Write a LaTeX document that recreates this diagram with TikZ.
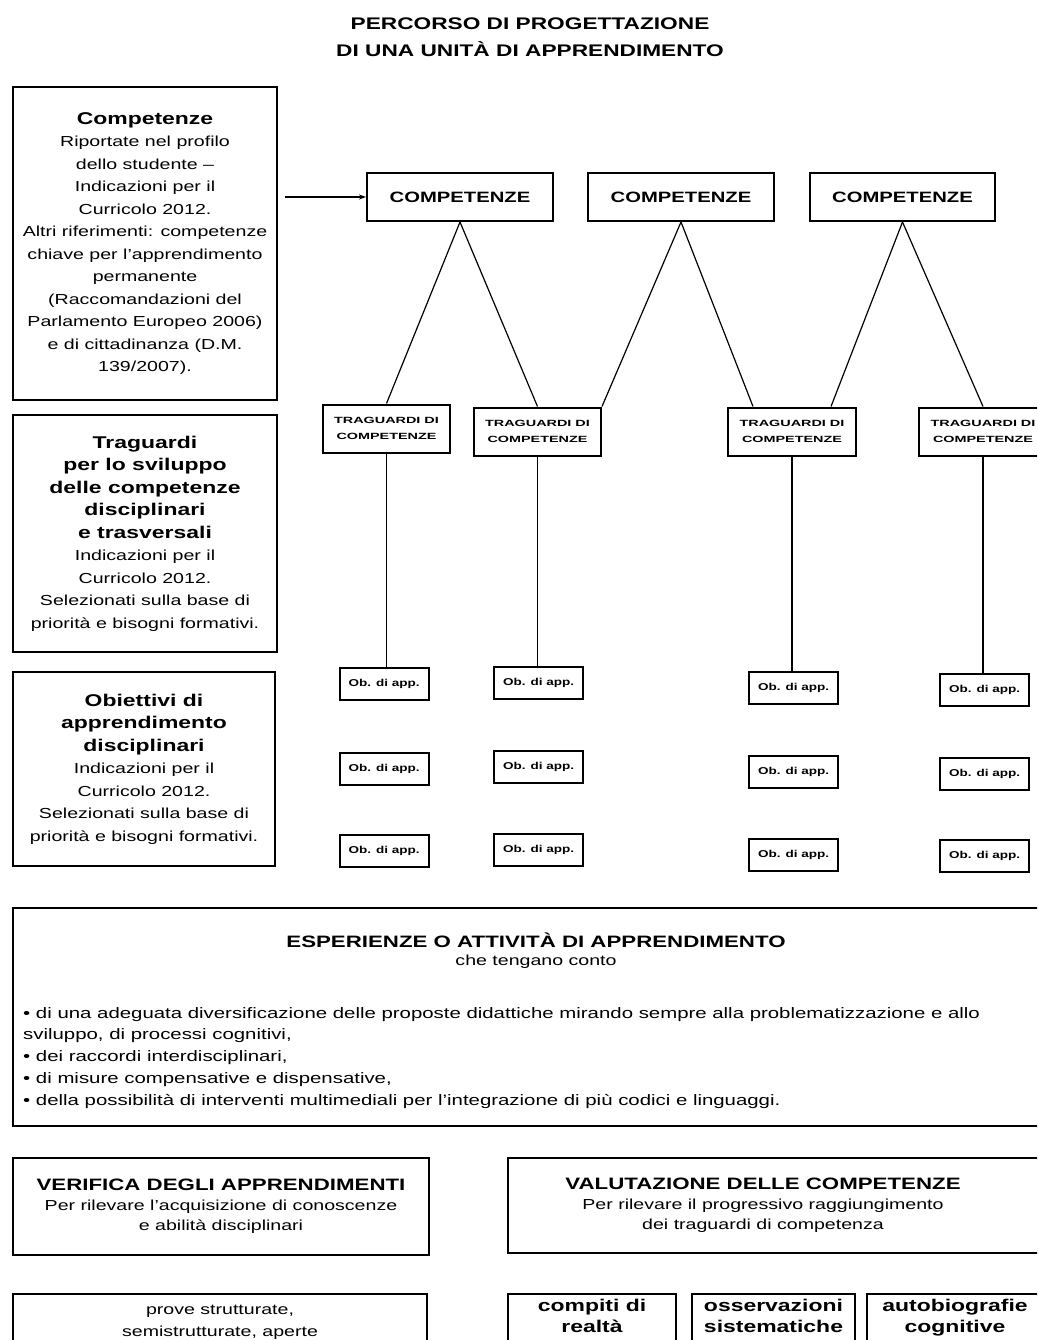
\documentclass[tikz,border=0pt]{standalone}
\usepackage{fontspec}
\setmainfont{Liberation Sans}[FakeStretch=1.35]
\newfontfamily\tinyfont{Liberation Sans}[FakeStretch=1.6]
\usetikzlibrary{positioning,calc,arrows.meta}

\newcommand{\regtext}{\fontsize{14.5}{22.5}\selectfont}
\newcommand{\headtext}{\fontsize{17}{22.5}\selectfont\bfseries}
\newcommand{\headsmall}{\fontsize{16.5}{20}\selectfont\bfseries}

\tikzset{
  boxframe/.style={draw, line width=2pt, inner sep=0pt, align=center},
  leftbox/.style={boxframe, minimum width=264pt, font=\regtext},
  compbox/.style={boxframe, minimum width=186pt, minimum height=48pt,
    font=\fontsize{15}{18}\selectfont\bfseries},
  tragbox/.style={boxframe, minimum width=127pt, minimum height=48pt,
    font=\tinyfont\fontsize{9}{16}\selectfont\bfseries},
  obbox/.style={boxframe, minimum width=89pt, minimum height=32pt,
    font=\fontsize{10}{12}\selectfont\bfseries},
  taskbox/.style={boxframe, minimum height=100pt, anchor=north},
  link/.style={line width=1.2pt},
}

\begin{document}
\begin{tikzpicture}[x=1pt, y=-1pt]
    \useasboundingbox (0,0) rectangle (1037,1340);
    \clip (0,0) rectangle (1037,1340);
    % title
    \node[align=center, font=\fontsize{16.8}{27}\selectfont\bfseries] (title) at (530,37)
      {PERCORSO DI PROGETTAZIONE\\ DI UNA UNITÀ DI APPRENDIMENTO};
    % left column
    \node[leftbox, minimum height=313pt] (lcomp) at (145,243.5)
      {{\headtext Competenze}\\ Riportate nel profilo\\ dello studente --\\
       Indicazioni per il\\ Curricolo 2012.\\ Altri riferimenti: competenze\\
       chiave per l'apprendimento\\ permanente\\ (Raccomandazioni del\\
       Parlamento Europeo 2006)\\ e di cittadinanza (D.M.\\ 139/2007).};
    \node[leftbox, minimum height=237pt] (ltrag) at (145,533.5)
      {{\headtext Traguardi}\\ {\headtext per lo sviluppo}\\ {\headtext delle competenze}\\
       {\headtext disciplinari}\\ {\headtext e trasversali}\\ Indicazioni per il\\
       Curricolo 2012.\\ Selezionati sulla base di\\ priorità e bisogni formativi.};
    \node[leftbox, minimum width=262pt, minimum height=194pt] (lobj) at (144,769)
      {{\headtext Obiettivi di}\\ {\headtext apprendimento}\\ {\headtext disciplinari}\\
       Indicazioni per il\\ Curricolo 2012.\\ Selezionati sulla base di\\
       priorità e bisogni formativi.};
    % competenze
    \node[compbox] (comp1) at (460,197) {COMPETENZE};
    \node[compbox] (comp2) at (681,197) {COMPETENZE};
    \node[compbox, minimum width=185pt] (comp3) at (902.5,197) {COMPETENZE};
    \coordinate (arrowstart) at (285,197);
    \draw[link, -{Stealth[length=7pt,width=5pt]}] (arrowstart) -- (comp1.west);
    % traguardi
    \node[tragbox] (trag1) at (386.5,428.5) {TRAGUARDI DI\\ COMPETENZE};
    \node[tragbox] (trag2) at (537.5,431.5) {TRAGUARDI DI\\ COMPETENZE};
    \node[tragbox, minimum width=128pt] (trag3) at (792,431.5) {TRAGUARDI DI\\ COMPETENZE};
    \node[tragbox, minimum width=128pt] (trag4) at (983,431.5) {TRAGUARDI DI\\ COMPETENZE};
    \draw[link] (comp1.south) -- (trag1.north);
    \draw[link] (comp1.south) -- (trag2.north);
    \draw[link] (comp2.south) -- (trag2.north east);
    \draw[link] (comp2.south) -- ($(trag3.north west)!0.2!(trag3.north east)$);
    \draw[link] (comp3.south) -- ($(trag3.north west)!0.8!(trag3.north east)$);
    \draw[link] (comp3.south) -- (trag4.north);
    % obiettivi
    \node[obbox] (ob11) at (384,684) {Ob. di app.};
    \node[obbox] (ob12) at (384,769) {Ob. di app.};
    \node[obbox] (ob13) at (384,850.5) {Ob. di app.};
    \node[obbox] (ob21) at (538.5,683) {Ob. di app.};
    \node[obbox] (ob22) at (538.5,766.5) {Ob. di app.};
    \node[obbox] (ob23) at (538.5,849.5) {Ob. di app.};
    \node[obbox] (ob31) at (793.5,688) {Ob. di app.};
    \node[obbox] (ob32) at (793.5,771.5) {Ob. di app.};
    \node[obbox] (ob33) at (793.5,855) {Ob. di app.};
    \node[obbox] (ob41) at (984.5,690) {Ob. di app.};
    \node[obbox] (ob42) at (984.5,774) {Ob. di app.};
    \node[obbox] (ob43) at (984.5,856) {Ob. di app.};
    \draw[link] (trag1.south) -- (trag1.south |- ob11.north);
    \draw[link] (trag2.south) -- (trag2.south |- ob21.north);
    \draw[link] (trag3.south) -- (trag3.south |- ob31.north);
    \draw[link] (trag4.south) -- (trag4.south |- ob41.north);
    % esperienze
    \node[boxframe, minimum width=1046pt, minimum height=218pt] (esp) at (536,1017) {};
    \node[font=\headsmall] (esptitle) at (536,940) {ESPERIENZE O ATTIVITÀ DI APPRENDIMENTO};
    \node[font=\regtext] (espsub) at (536,962) {che tengano conto};
    \node[anchor=north west, align=left, inner sep=0pt, font=\fontsize{15.1}{21.75}\selectfont]
      (esplist) at (23,1007)
      {• di una adeguata diversificazione delle proposte didattiche mirando sempre alla problematizzazione e allo\\
       sviluppo, di processi cognitivi,\\
       • dei raccordi interdisciplinari,\\
       • di misure compensative e dispensative,\\
       • della possibilità di interventi multimediali per l'integrazione di più codici e linguaggi.};
    % verifica e valutazione
    \node[boxframe, minimum width=416pt, minimum height=97pt, font=\fontsize{14.5}{20}\selectfont]
      (verifica) at (221,1206.5)
      {{\headsmall VERIFICA DEGLI APPRENDIMENTI}\\ Per rilevare l'acquisizione di conoscenze\\
       e abilità disciplinari};
    \node[boxframe, minimum width=537pt, minimum height=95pt] (valuta) at (776.5,1205.5) {};
    \node[align=center, font=\fontsize{14.5}{20}\selectfont] (valtext) at (763,1205)
      {{\headsmall VALUTAZIONE DELLE COMPETENZE}\\ Per rilevare il progressivo raggiungimento\\
       dei traguardi di competenza};
    % strumenti
    \node[taskbox, minimum width=414pt] (prove) at (220,1293) {};
    \node[below=12pt of prove.north, align=center, inner sep=0pt, font=\fontsize{14.5}{22}\selectfont]
      (provetext) {prove strutturate,\\ semistrutturate, aperte};
    \node[taskbox, minimum width=168pt] (compiti) at (592,1293) {};
    \node[taskbox, minimum width=163pt] (osserva) at (773.5,1293) {};
    \node[taskbox, minimum width=176pt] (autobio) at (955,1293) {};
    \node[below=6pt of compiti.north, align=center, inner sep=0pt, font=\fontsize{17}{21}\selectfont\bfseries]
      (compititext) {compiti di\\ realtà};
    \node[below=6pt of osserva.north, align=center, inner sep=0pt, font=\fontsize{17}{21}\selectfont\bfseries]
      (osservatext) {osservazioni\\ sistematiche};
    \node[below=6pt of autobio.north, align=center, inner sep=0pt, font=\fontsize{17}{21}\selectfont\bfseries]
      (autobiotext) {autobiografie\\ cognitive};
\end{tikzpicture}
\end{document}
